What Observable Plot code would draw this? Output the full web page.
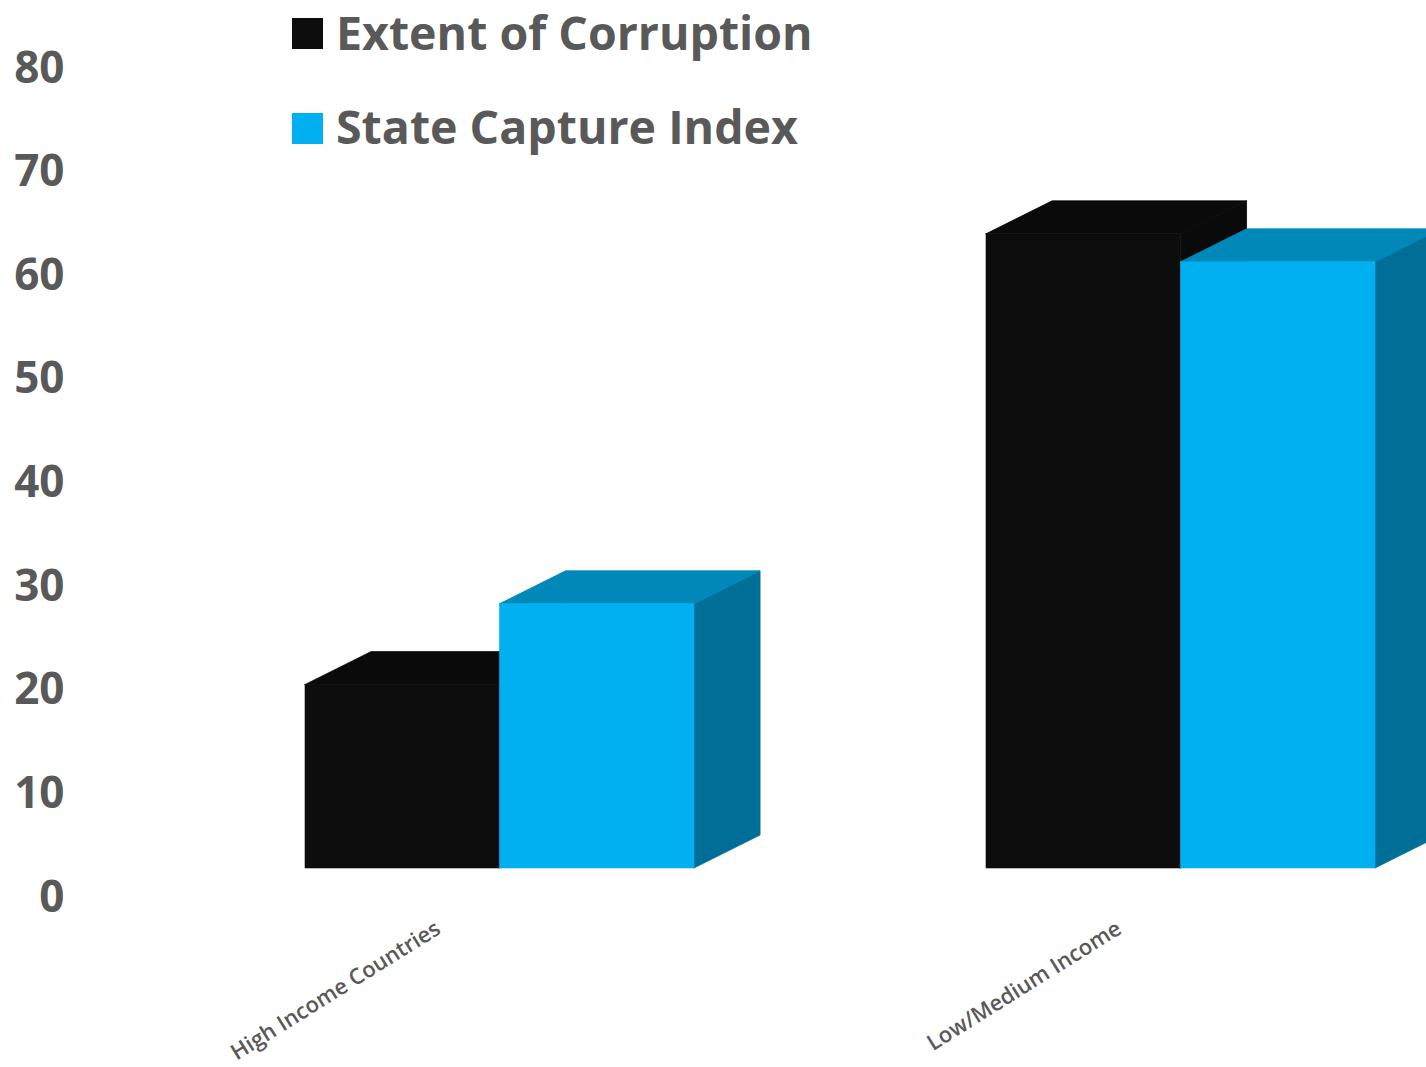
<!DOCTYPE html>
<html><head><meta charset="utf-8">
<script src="https://cdn.jsdelivr.net/npm/d3@7"></script>
<script src="https://cdn.jsdelivr.net/npm/@observablehq/plot@0.6"></script>
<style>
body{margin:0;background:#fff;}
#wrap{position:relative;width:1426px;height:1067px;overflow:hidden;}
#wrap svg{position:absolute;left:0;top:0;}
.sw{position:absolute;left:292px;width:31px;height:31px;}
.lt{position:absolute;left:336px;font-family:"Open Sans";font-weight:700;font-size:46.5px;line-height:46px;color:#595959;white-space:nowrap;}
</style></head><body>
<div id="wrap"></div>
<script>
// ---- data ----
const categories = ["High Income Countries", "Low/Medium Income"];
const seriesNames = ["Extent of Corruption", "State Capture Index"];
const extentOfCorruption = [20.5, 64];
const stateCaptureIndex = [28.3, 61.3];
const yTicks = [0, 10, 20, 30, 40, 50, 60, 70, 80];

// ---- style ----
const frontColors = ["#0d0d0d", "#00b0f0"];
const topColors = ["#0a0a0a", "#0088b8"];
const sideColors = ["#0a0a0a", "#006f98"];
const barWidth = 0.2856;   // in group units
const depthX = 0.097;      // 3D depth, x units
const depthY = 3.18;       // 3D depth, y units
const floorLevel = 2.8;    // 3D floor

const seriesValues = [extentOfCorruption, stateCaptureIndex];
const bars = [];
seriesValues.forEach((vals, si) => vals.forEach((v, ci) => {
  const x1 = ci - barWidth + si * barWidth;
  bars.push({si, ci, key: si + "-" + ci, x1, x2: x1 + barWidth, value: v, floor: floorLevel});
}));
const tops = [], sides = [];
for (const b of bars) {
  tops.push({si: b.si, key: b.key, x: b.x1, lo: b.value, hi: b.value});
  tops.push({si: b.si, key: b.key, x: b.x1 + depthX, lo: b.value, hi: b.value + depthY});
  tops.push({si: b.si, key: b.key, x: b.x2, lo: b.value, hi: b.value + depthY});
  tops.push({si: b.si, key: b.key, x: b.x2 + depthX, lo: b.value + depthY, hi: b.value + depthY});
  sides.push({si: b.si, key: b.key, x: b.x2, lo: b.floor, hi: b.value});
  sides.push({si: b.si, key: b.key, x: b.x2 + depthX, lo: b.floor + depthY, hi: b.value + depthY});
}
const catRows = categories.map((name, ci) => ({ci, name}));

const marks = [];
[0, 1].forEach(si => {
  marks.push(Plot.area(sides.filter(d => d.si === si), {x1: "x", y1: "lo", y2: "hi", z: "key", fill: sideColors[si], stroke: sideColors[si], strokeWidth: 0.8, curve: "linear"}));
  marks.push(Plot.area(tops.filter(d => d.si === si), {x1: "x", y1: "lo", y2: "hi", z: "key", fill: topColors[si], stroke: topColors[si], strokeWidth: 0.8, curve: "linear"}));
  marks.push(Plot.rect(bars.filter(d => d.si === si), {x1: "x1", x2: "x2", y1: "floor", y2: "value", fill: frontColors[si], stroke: frontColors[si], strokeWidth: 0.6}));
});

const chart = Plot.plot({
  width: 1426,
  height: 1067,
  marginLeft: 70,
  marginRight: 0,
  marginTop: 68,
  marginBottom: 170,
  style: {fontFamily: "Open Sans", color: "#595959", background: "transparent", overflow: "hidden"},
  x: {type: "linear", domain: [0, 1], range: [499.5, 1180.5], axis: null},
  y: {domain: [0, 80], range: [897, 68]},
  marks: [
    ...marks,
    Plot.axisY(yTicks, {tickSize: 0, tickPadding: 6, fontSize: 44, fontWeight: 700, label: null}),
    Plot.text(catRows, {x: "ci", text: "name", frameAnchor: "bottom", dx: -58, dy: 35, rotate: -32, textAnchor: "end", fontSize: 22, fontWeight: 600, fill: "#595959"})
  ]
});
const wrap = document.getElementById("wrap");
wrap.appendChild(chart);

// legend overlay
const legendTops = [[18, 9], [113, 103]];
seriesNames.forEach((name, i) => {
  const sw = document.createElement("div");
  sw.className = "sw";
  sw.style.top = legendTops[i][0] + "px";
  sw.style.background = frontColors[i];
  wrap.appendChild(sw);
  const t = document.createElement("div");
  t.className = "lt";
  t.style.top = legendTops[i][1] + "px";
  t.textContent = name;
  wrap.appendChild(t);
});
</script>
</body></html>
